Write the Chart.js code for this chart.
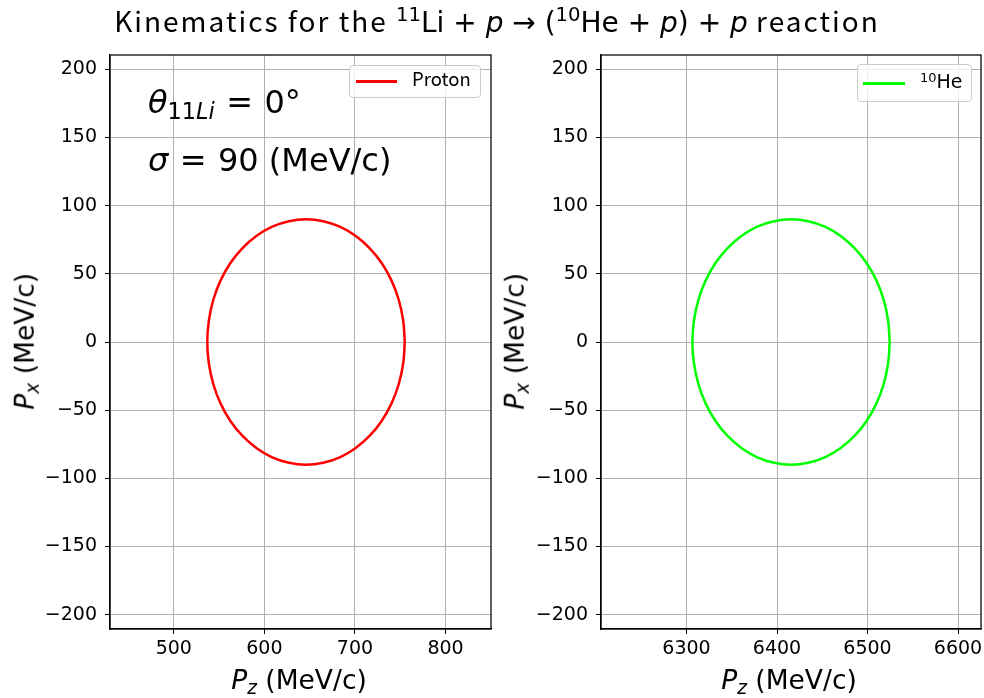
<!DOCTYPE html>
<html>
<head>
<meta charset="utf-8">
<script src="https://cdn.jsdelivr.net/npm/chart.js@4.4.0/dist/chart.umd.min.js"></script>
<style>
  html, body { margin:0; padding:0; background:#fff; }
  #wrap { position:relative; width:984px; height:698px; overflow:hidden; }
  canvas { position:absolute; top:0; }
  .abs { position:absolute; white-space:nowrap; color:#000; }
  .dv { font-family:"DejaVu Sans"; }
  .jp { font-family:"Noto Sans CJK JP"; }
  #title { left:0; width:994px; text-align:center; top:4px; font-size:28px; line-height:1.2; }
  #title .jp { letter-spacing:2px; }
  #title sup { font-size:0.7em; vertical-align:0.55em; line-height:0; }
  .ann { font-size:32px; line-height:1; }
  .ann sub { font-size:0.7em; vertical-align:-0.25em; line-height:0; }
  .eq { margin:0 0.04em; }
  .xlab, .ylab { font-size:26.5px; line-height:1; }
  .xlab sub, .ylab sub { font-size:0.7em; vertical-align:-0.25em; line-height:0; }
  .ylab { transform-origin:center center; transform:rotate(-90deg); text-align:center; }
  .legend { border:1px solid #cccccc; border-radius:4px; background:rgba(255,255,255,0.8); box-sizing:border-box; }
  .lline { position:absolute; height:2.5px; }
</style>
</head>
<body>
<div id="wrap">
  <canvas id="c1" width="500" height="698" style="left:0;width:500px;height:698px"></canvas>
  <canvas id="c2" width="520" height="698" style="left:490px;width:520px;height:698px"></canvas>

  <div id="title" class="abs"><span class="jp">Kinematics for the </span><span class="dv"><sup>11</sup>Li + <i>p</i> → (<sup>10</sup>He + <i>p</i>) + <i>p</i></span><span class="jp"> reaction</span></div>

  <div class="abs dv ann" style="left:148px;top:86px"><i>θ</i><sub>11<i>Li</i></sub><span class="eq"> = </span>0°</div>
  <div class="abs dv ann" style="left:148px;top:144px"><i>σ</i><span class="eq"> = </span>90 (MeV/c)</div>

  <div class="abs dv xlab" style="left:149px;width:300px;text-align:center;top:667px"><i>P</i><sub><i>z</i></sub> (MeV/c)</div>
  <div class="abs dv xlab" style="left:639px;width:300px;text-align:center;top:667px"><i>P</i><sub><i>z</i></sub> (MeV/c)</div>
  <div class="abs dv ylab" style="left:-125px;width:300px;top:328px"><i>P</i><sub><i>x</i></sub> (MeV/c)</div>
  <div class="abs dv ylab" style="left:365px;width:300px;top:328px"><i>P</i><sub><i>x</i></sub> (MeV/c)</div>

  <div class="abs legend" style="left:349px;top:65px;width:132px;height:33px"></div>
  <div class="lline" style="left:356px;top:80px;width:41px;background:#ff0000"></div>
  <div class="abs jp" style="left:412px;top:67px;font-size:18.5px;line-height:1.2">Proton</div>

  <div class="abs legend" style="left:857px;top:64px;width:115px;height:38px"></div>
  <div class="lline" style="left:863px;top:82px;width:42px;background:#00ff00"></div>
  <div class="abs dv" style="left:920px;top:70px;font-size:19px;line-height:1.2"><sup style="font-size:13px;vertical-align:0.5em;line-height:0">10</sup>He</div>
</div>
<script>
// ---- data ----
const protonPz = [755.0, 753.3, 748.4, 740.4, 729.5, 716.1, 700.5, 683.3, 664.9, 646.0, 627.1, 608.7, 591.5, 575.9, 562.5, 551.6, 543.6, 538.7, 537.0, 538.7, 543.6, 551.6, 562.5, 575.9, 591.5, 608.7, 627.1, 646.0, 664.9, 683.3, 700.5, 716.1, 729.5, 740.4, 748.4, 753.3, 755.0];
const protonPx = [0, 15.6, 30.8, 45.0, 57.9, 68.9, 77.9, 84.6, 88.6, 90, 88.6, 84.6, 77.9, 68.9, 57.9, 45.0, 30.8, 15.6, 0, -15.6, -30.8, -45.0, -57.9, -68.9, -77.9, -84.6, -88.6, -90, -88.6, -84.6, -77.9, -68.9, -57.9, -45.0, -30.8, -15.6, 0];
const hePz = [6524.5, 6522.8, 6517.9, 6509.9, 6499.0, 6485.6, 6470.0, 6452.8, 6434.4, 6415.5, 6396.6, 6378.2, 6361.0, 6345.4, 6332.0, 6321.1, 6313.1, 6308.2, 6306.5, 6308.2, 6313.1, 6321.1, 6332.0, 6345.4, 6361.0, 6378.2, 6396.6, 6415.5, 6434.4, 6452.8, 6470.0, 6485.6, 6499.0, 6509.9, 6517.9, 6522.8, 6524.5];
const hePx = [0, 15.6, 30.8, 45.0, 57.9, 68.9, 77.9, 84.6, 88.6, 90, 88.6, 84.6, 77.9, 68.9, 57.9, 45.0, 30.8, 15.6, 0, -15.6, -30.8, -45.0, -57.9, -68.9, -77.9, -84.6, -88.6, -90, -88.6, -84.6, -77.9, -68.9, -57.9, -45.0, -30.8, -15.6, 0];

const protonXTicks = [500, 600, 700, 800];
const heXTicks = [6300, 6400, 6500, 6600];
const yTicks = [-200, -150, -100, -50, 0, 50, 100, 150, 200];
const protonXRange = [429.6, 850.2];
const heXRange = [6205.5, 6625.4];
const yRange = [-210.5, 210.5];

function fmt(v) { return String(v).replace('-', '\u2212'); }

const frame = {
  id: 'frame',
  afterDatasetsDraw(chart) {
    const a = chart.chartArea, ctx = chart.ctx;
    ctx.save();
    ctx.strokeStyle = '#000';
    ctx.lineWidth = 1.25;
    ctx.strokeRect(a.left, a.top, a.right - a.left, a.bottom - a.top);
    ctx.restore();
  }
};

function makeChart(id, xs, ys, color, xTicks, xRange, yAxisWidth, rightPad) {
  const pts = xs.map((x, i) => ({ x: x, y: ys[i] }));
  return new Chart(document.getElementById(id), {
    type: 'scatter',
    data: { datasets: [{ data: pts, showLine: true, borderColor: color, borderWidth: 2.5, pointRadius: 0, tension: 0.4, fill: false }] },
    options: {
      responsive: false, animation: false,
      layout: { padding: { top: 55, right: rightPad, bottom: 0, left: 0 } },
      plugins: { legend: { display: false }, title: { display: false }, tooltip: { enabled: false } },
      scales: {
        x: {
          type: 'linear', min: xRange[0], max: xRange[1],
          afterBuildTicks: s => { s.ticks = xTicks.map(v => ({ value: v })); },
          afterFit: s => { s.height = 69; },
          ticks: { font: { family: 'DejaVu Sans', size: 19 }, color: '#000', padding: 4, maxRotation: 0, callback: v => fmt(v) },
          grid: { color: '#b0b0b0', lineWidth: 1, tickColor: '#000', tickLength: 5, tickWidth: 1 },
          border: { display: true, color: '#000', width: 1.25 }
        },
        y: {
          type: 'linear', min: yRange[0], max: yRange[1],
          afterBuildTicks: s => { s.ticks = yTicks.map(v => ({ value: v })); },
          afterFit: s => { s.width = yAxisWidth; },
          ticks: { font: { family: 'DejaVu Sans', size: 19 }, color: '#000', padding: 8, callback: v => fmt(v) },
          grid: { color: '#b0b0b0', lineWidth: 1, tickColor: '#000', tickLength: 5, tickWidth: 1 },
          border: { display: true, color: '#000', width: 1.25 }
        }
      }
    },
    plugins: [frame]
  });
}

makeChart('c1', protonPz, protonPx, '#ff0000', protonXTicks, protonXRange, 110, 9);
makeChart('c2', hePz, hePx, '#00ff00', heXTicks, heXRange, 111, 29);
</script>
</body>
</html>
